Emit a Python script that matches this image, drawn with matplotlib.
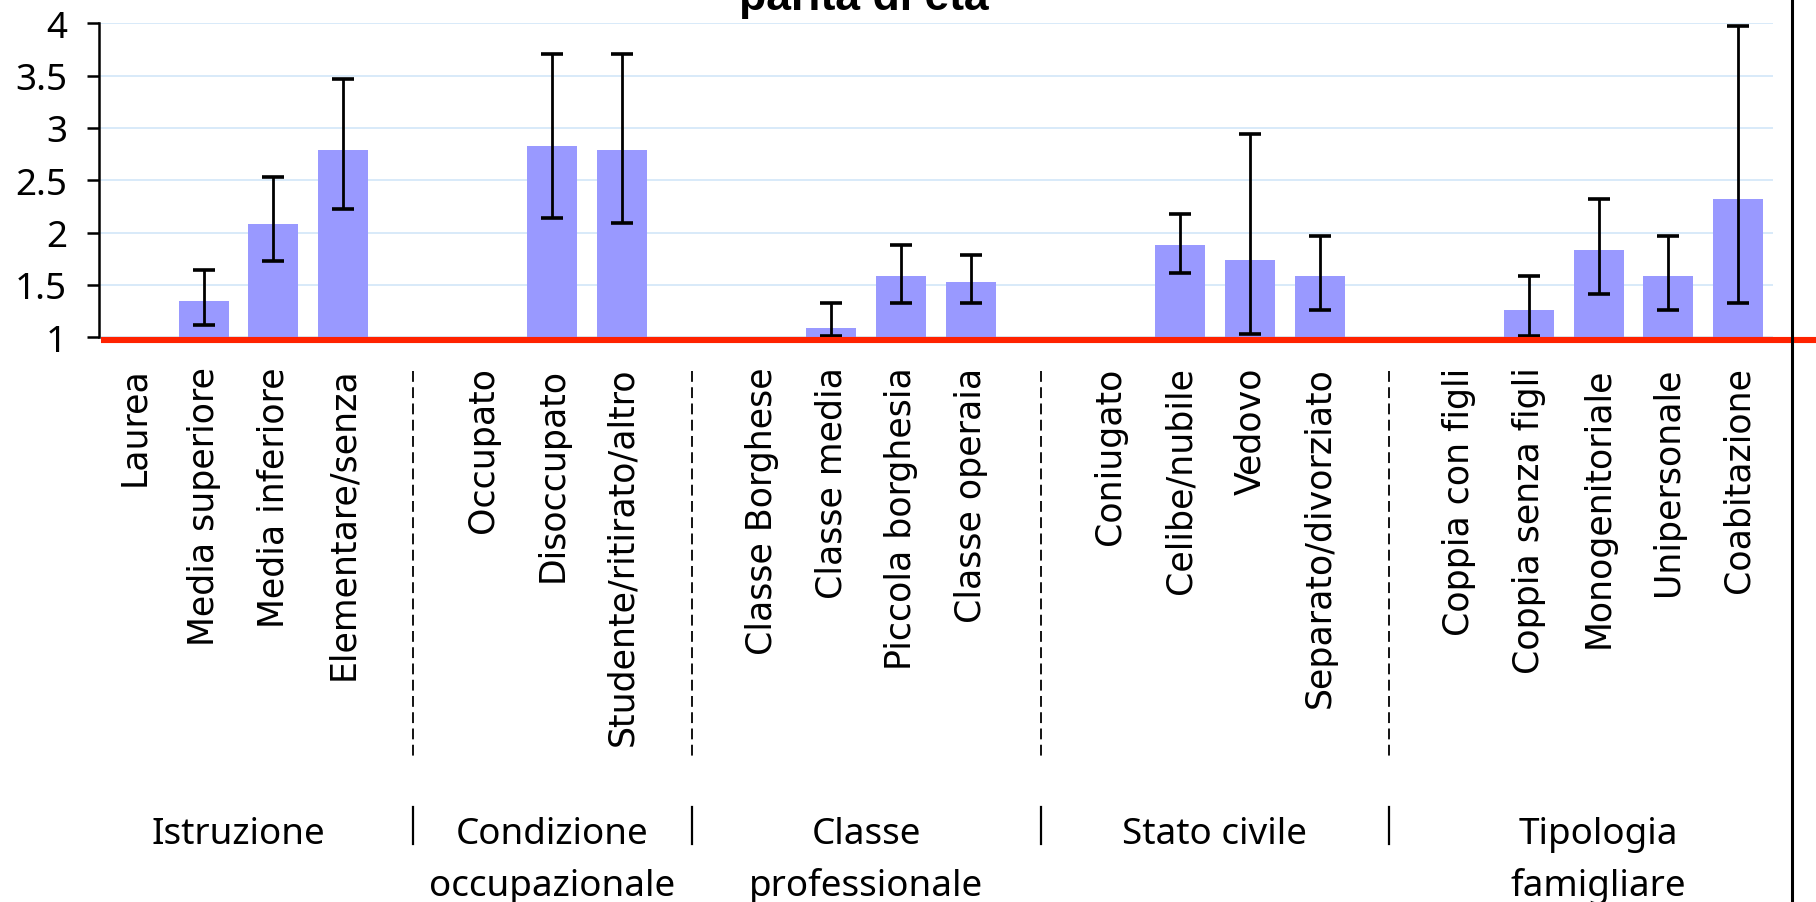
import numpy as np
import matplotlib
matplotlib.use('Agg')
from matplotlib import pyplot as plt
from matplotlib import transforms
from matplotlib.lines import Line2D
from matplotlib.ticker import FormatStrFormatter

groups = ['Istruzione', 'Condizione\noccupazionale', 'Classe\nprofessionale',
          'Stato civile', 'Tipologia\nfamigliare']
group_sizes = [4, 3, 4, 4, 5]
labels = ['Laurea', 'Media superiore', 'Media inferiore', 'Elementare/senza',
          'Occupato', 'Disoccupato', 'Studente/ritirato/altro',
          'Classe Borghese', 'Classe media', 'Piccola borghesia', 'Classe operaia',
          'Coniugato', 'Celibe/nubile', 'Vedovo', 'Separato/divorziato',
          'Coppia con figli', 'Coppia senza figli', 'Monogenitoriale',
          'Unipersonale', 'Coabitazione']
odds = [1.0, 1.35, 2.08, 2.79,
        1.0, 2.83, 2.79,
        1.0, 1.09, 1.59, 1.53,
        1.0, 1.88, 1.74, 1.59,
        1.0, 1.26, 1.83, 1.59, 2.32]
ci_low = [np.nan, 1.12, 1.73, 2.23,
          np.nan, 2.14, 2.09,
          np.nan, 1.01, 1.33, 1.33,
          np.nan, 1.61, 1.03, 1.26,
          np.nan, 1.01, 1.41, 1.26, 1.33]
ci_high = [np.nan, 1.64, 2.53, 3.47,
           np.nan, 3.71, 3.71,
           np.nan, 1.33, 1.88, 1.79,
           np.nan, 2.18, 2.94, 1.97,
           np.nan, 1.59, 2.32, 1.97, 3.97]

W, H = 1816, 903
bar_color = '#9999FF'
red = '#FF2200'
grid_color = '#D2E6F8'
tick_font = 'Noto Sans'
label_font = 'DejaVu Sans'


def fy(px):
    # pixel row from top -> figure fraction
    return 1 - px / H


def main():
    fig = plt.figure(figsize=(W / 100, H / 100), dpi=100)
    ax = fig.add_axes([99 / W, fy(338.3), (1773 - 99) / W, (338.3 - 24.3) / H])

    # slot positions, one empty slot between groups
    pos, gaps, centers = [], [], []
    start = 0
    for size in group_sizes:
        pos.extend(range(start, start + size))
        centers.append(start + (size - 1) / 2)
        start += size + 1
        gaps.append(start - 1)
    gaps = gaps[:-1]
    pos = np.array(pos)

    odds_a = np.array(odds)
    lo = np.array(ci_low)
    hi = np.array(ci_high)

    ax.bar(pos, odds_a - 1, bottom=1, width=0.72, color=bar_color, zorder=2)
    ok = ~np.isnan(lo)
    ax.errorbar(pos[ok], odds_a[ok], yerr=[odds_a[ok] - lo[ok], hi[ok] - odds_a[ok]],
                fmt='none', ecolor='black', elinewidth=2, capsize=8, capthick=2.6, zorder=3)

    ax.set_xlim(-0.5, pos[-1] + 0.5)
    ax.set_ylim(1, 4)
    ax.set_yticks(np.arange(1, 4.01, 0.5))
    ax.yaxis.set_major_formatter(FormatStrFormatter('%g'))
    ax.yaxis.grid(True, color=grid_color, lw=1.2, zorder=0)
    ax.set_axisbelow(True)

    for s in ['top', 'right', 'bottom']:
        ax.spines[s].set_visible(False)
    ax.spines['left'].set_linewidth(1.8)

    ax.tick_params(axis='y', length=9, width=1.8, pad=14, labelsize=26.5)
    for t in ax.get_yticklabels():
        t.set_fontfamily(tick_font)

    ax.set_xticks(pos)
    ax.set_xticklabels(labels, rotation=90, fontsize=25, family=label_font)
    ax.tick_params(axis='x', length=0, pad=21)

    # red reference line at odds = 1, running off to the figure edge
    trans = transforms.blended_transform_factory(fig.transFigure, ax.transData)
    trans = transforms.offset_copy(trans, fig=fig, y=-3, units='dots')
    ax.add_line(Line2D([101 / W, 1.0], [1, 1], transform=trans, color=red, lw=4.4,
                       clip_on=False, zorder=6, solid_capstyle='butt'))

    # dashed separators and group labels
    sep = transforms.blended_transform_factory(ax.transData, fig.transFigure)
    for g in gaps:
        ax.add_line(Line2D([g, g], [fy(372), fy(762)], transform=sep, color='black',
                           lw=1.3, ls=(0, (6, 3)), clip_on=False))
        ax.add_line(Line2D([g, g], [fy(808), fy(845)], transform=sep, color='black',
                           lw=1.6, clip_on=False))
    for name, c in zip(groups, centers):
        for i, line in enumerate(name.split('\n')):
            ax.text(c, fy(844 + i * 52), line, transform=sep, ha='center', va='baseline',
                    fontsize=26.5, family=tick_font)

    # right frame edge of the original
    fig.add_artist(Line2D([1792 / W, 1792 / W], [0, 1], transform=fig.transFigure,
                          color='black', lw=2.2, zorder=5))

    fig.text(864 / W, fy(10), 'parità di età', ha='center', va='baseline',
             fontsize=32, fontweight='bold', family='Liberation Sans')

    fig.savefig('out.png', dpi=100)


if __name__ == '__main__':
    main()
